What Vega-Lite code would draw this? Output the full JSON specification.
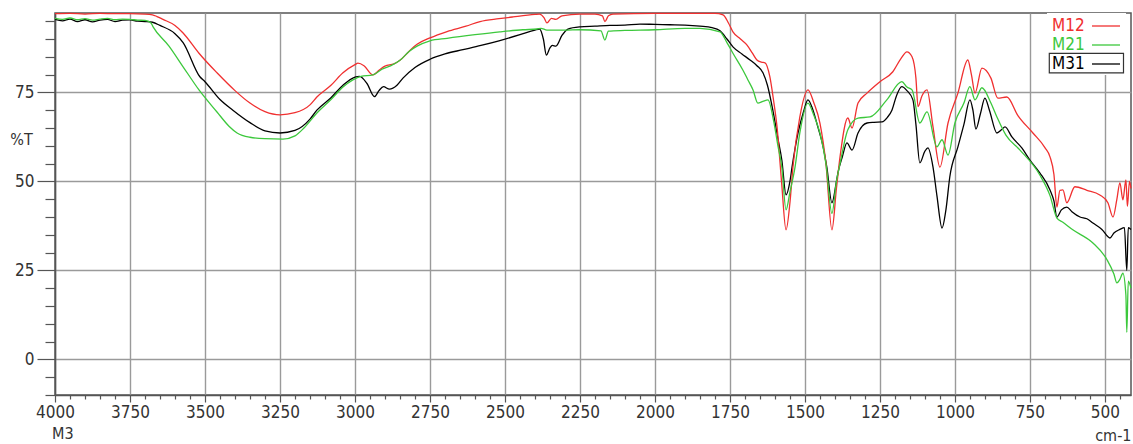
{
  "$schema": "https://vega.github.io/schema/vega-lite/v6.json",
  "width": 1076,
  "height": 382,
  "autosize": {"type": "none"},
  "padding": {"left": 55, "top": 13, "right": 2, "bottom": 49},
  "background": "white",
  "title": {"text": "M3", "orient": "bottom", "anchor": "start", "frame": "group", "offset": -17, "dx": -3, "fontSize": 16, "fontWeight": "normal", "color": "#333", "font": "Liberation Sans Narrow, DejaVu Sans Condensed, Liberation Sans"},
  "config": {
    "font": "Liberation Sans Narrow, DejaVu Sans Condensed, Liberation Sans",
    "view": {"stroke": "#555", "strokeWidth": 1.5},
    "axis": {"labelFont": "Liberation Sans Narrow, DejaVu Sans Condensed, Liberation Sans", "labelFontSize": 17, "labelColor": "#333", "titleFont": "Liberation Sans Narrow, DejaVu Sans Condensed, Liberation Sans", "titleFontWeight": "normal", "titleFontSize": 16, "titleColor": "#333", "domainColor": "#555", "domainWidth": 1.5, "tickColor": "#555", "tickWidth": 1.2, "gridColor": "#9a9a9a", "gridWidth": 1.4, "labelFlush": false, "labelOverlap": false}
  },
  "data": {"values": [
    {"s":"M31","wn":4000,"t":95.5},{"s":"M31","wn":3975,"t":95.1},{"s":"M31","wn":3950,"t":95.6},{"s":"M31","wn":3925,"t":94.9},{"s":"M31","wn":3900,"t":95.4},{"s":"M31","wn":3875,"t":94.8},{"s":"M31","wn":3850,"t":95.3},{"s":"M31","wn":3825,"t":95.5},{"s":"M31","wn":3800,"t":94.9},{"s":"M31","wn":3775,"t":95.3},{"s":"M31","wn":3750,"t":95.4},{"s":"M31","wn":3725,"t":95.0},{"s":"M31","wn":3700,"t":94.9},{"s":"M31","wn":3675,"t":94.7},{"s":"M31","wn":3650,"t":93.8},{"s":"M31","wn":3600,"t":91.5},{"s":"M31","wn":3573,"t":89.0},{"s":"M31","wn":3517,"t":79.4},{"s":"M31","wn":3500,"t":78.0},{"s":"M31","wn":3450,"t":73.0},{"s":"M31","wn":3407,"t":70.0},{"s":"M31","wn":3350,"t":66.5},{"s":"M31","wn":3300,"t":64.2},{"s":"M31","wn":3250,"t":63.6},{"s":"M31","wn":3200,"t":64.3},{"s":"M31","wn":3150,"t":67.5},{"s":"M31","wn":3127,"t":70.0},{"s":"M31","wn":3080,"t":73.5},{"s":"M31","wn":3040,"t":77.0},{"s":"M31","wn":3000,"t":79.3},{"s":"M31","wn":2985,"t":79.5},{"s":"M31","wn":2960,"t":77.5},{"s":"M31","wn":2935,"t":73.8},{"s":"M31","wn":2920,"t":75.5},{"s":"M31","wn":2905,"t":76.6},{"s":"M31","wn":2885,"t":75.9},{"s":"M31","wn":2860,"t":77.0},{"s":"M31","wn":2840,"t":79.0},{"s":"M31","wn":2800,"t":82.0},{"s":"M31","wn":2750,"t":84.3},{"s":"M31","wn":2700,"t":85.8},{"s":"M31","wn":2640,"t":87.0},{"s":"M31","wn":2580,"t":88.2},{"s":"M31","wn":2520,"t":89.5},{"s":"M31","wn":2450,"t":91.2},{"s":"M31","wn":2400,"t":92.5},{"s":"M31","wn":2385,"t":92.8},{"s":"M31","wn":2372,"t":90.0},{"s":"M31","wn":2362,"t":85.5},{"s":"M31","wn":2350,"t":87.5},{"s":"M31","wn":2342,"t":88.2},{"s":"M31","wn":2330,"t":88.0},{"s":"M31","wn":2310,"t":91.0},{"s":"M31","wn":2290,"t":92.8},{"s":"M31","wn":2250,"t":93.4},{"s":"M31","wn":2200,"t":93.6},{"s":"M31","wn":2150,"t":93.8},{"s":"M31","wn":2100,"t":93.9},{"s":"M31","wn":2050,"t":94.2},{"s":"M31","wn":2000,"t":94.1},{"s":"M31","wn":1950,"t":94.0},{"s":"M31","wn":1900,"t":93.9},{"s":"M31","wn":1850,"t":93.6},{"s":"M31","wn":1810,"t":93.2},{"s":"M31","wn":1783,"t":92.3},{"s":"M31","wn":1760,"t":90.0},{"s":"M31","wn":1740,"t":87.8},{"s":"M31","wn":1710,"t":85.8},{"s":"M31","wn":1683,"t":84.1},{"s":"M31","wn":1660,"t":82.5},{"s":"M31","wn":1640,"t":80.5},{"s":"M31","wn":1625,"t":77.0},{"s":"M31","wn":1607,"t":70.0},{"s":"M31","wn":1590,"t":62.0},{"s":"M31","wn":1577,"t":56.0},{"s":"M31","wn":1563,"t":46.2},{"s":"M31","wn":1550,"t":50.0},{"s":"M31","wn":1543,"t":54.0},{"s":"M31","wn":1523,"t":63.6},{"s":"M31","wn":1505,"t":69.5},{"s":"M31","wn":1490,"t":72.9},{"s":"M31","wn":1475,"t":70.5},{"s":"M31","wn":1457,"t":65.3},{"s":"M31","wn":1440,"t":60.0},{"s":"M31","wn":1427,"t":54.0},{"s":"M31","wn":1410,"t":44.0},{"s":"M31","wn":1395,"t":50.0},{"s":"M31","wn":1390,"t":52.4},{"s":"M31","wn":1375,"t":57.0},{"s":"M31","wn":1360,"t":60.8},{"s":"M31","wn":1343,"t":58.8},{"s":"M31","wn":1323,"t":63.6},{"s":"M31","wn":1293,"t":66.4},{"s":"M31","wn":1270,"t":66.6},{"s":"M31","wn":1243,"t":66.7},{"s":"M31","wn":1225,"t":68.0},{"s":"M31","wn":1210,"t":70.0},{"s":"M31","wn":1195,"t":74.0},{"s":"M31","wn":1177,"t":76.6},{"s":"M31","wn":1160,"t":75.5},{"s":"M31","wn":1140,"t":72.9},{"s":"M31","wn":1130,"t":66.0},{"s":"M31","wn":1117,"t":55.2},{"s":"M31","wn":1100,"t":58.5},{"s":"M31","wn":1090,"t":59.4},{"s":"M31","wn":1073,"t":54.0},{"s":"M31","wn":1060,"t":46.0},{"s":"M31","wn":1043,"t":36.9},{"s":"M31","wn":1030,"t":42.0},{"s":"M31","wn":1017,"t":51.3},{"s":"M31","wn":990,"t":59.7},{"s":"M31","wn":970,"t":66.0},{"s":"M31","wn":950,"t":72.9},{"s":"M31","wn":940,"t":70.0},{"s":"M31","wn":930,"t":64.7},{"s":"M31","wn":915,"t":69.0},{"s":"M31","wn":900,"t":73.4},{"s":"M31","wn":885,"t":70.0},{"s":"M31","wn":860,"t":63.6},{"s":"M31","wn":845,"t":64.5},{"s":"M31","wn":833,"t":65.3},{"s":"M31","wn":810,"t":62.5},{"s":"M31","wn":777,"t":59.4},{"s":"M31","wn":750,"t":56.0},{"s":"M31","wn":717,"t":52.4},{"s":"M31","wn":683,"t":47.6},{"s":"M31","wn":670,"t":44.5},{"s":"M31","wn":660,"t":40.0},{"s":"M31","wn":645,"t":42.0},{"s":"M31","wn":627,"t":42.8},{"s":"M31","wn":610,"t":41.5},{"s":"M31","wn":583,"t":40.0},{"s":"M31","wn":560,"t":39.5},{"s":"M31","wn":540,"t":38.3},{"s":"M31","wn":510,"t":36.5},{"s":"M31","wn":483,"t":34.1},{"s":"M31","wn":470,"t":35.5},{"s":"M31","wn":450,"t":36.5},{"s":"M31","wn":435,"t":37.0},{"s":"M31","wn":427,"t":25.0},{"s":"M31","wn":422,"t":37.0},{"s":"M31","wn":413,"t":36.5},

    {"s":"M12","wn":4000,"t":97.1},{"s":"M12","wn":3950,"t":97.2},{"s":"M12","wn":3900,"t":97.0},{"s":"M12","wn":3850,"t":97.2},{"s":"M12","wn":3800,"t":97.1},{"s":"M12","wn":3750,"t":97.1},{"s":"M12","wn":3700,"t":97.0},{"s":"M12","wn":3675,"t":96.8},{"s":"M12","wn":3660,"t":96.3},{"s":"M12","wn":3640,"t":95.5},{"s":"M12","wn":3600,"t":93.8},{"s":"M12","wn":3573,"t":91.7},{"s":"M12","wn":3520,"t":86.0},{"s":"M12","wn":3460,"t":80.5},{"s":"M12","wn":3400,"t":75.5},{"s":"M12","wn":3350,"t":72.0},{"s":"M12","wn":3300,"t":69.6},{"s":"M12","wn":3250,"t":68.7},{"s":"M12","wn":3200,"t":69.3},{"s":"M12","wn":3150,"t":71.5},{"s":"M12","wn":3127,"t":73.7},{"s":"M12","wn":3080,"t":77.0},{"s":"M12","wn":3040,"t":80.5},{"s":"M12","wn":3000,"t":82.8},{"s":"M12","wn":2990,"t":83.2},{"s":"M12","wn":2970,"t":82.5},{"s":"M12","wn":2940,"t":79.9},{"s":"M12","wn":2920,"t":81.2},{"s":"M12","wn":2900,"t":82.4},{"s":"M12","wn":2870,"t":83.0},{"s":"M12","wn":2850,"t":84.0},{"s":"M12","wn":2820,"t":86.5},{"s":"M12","wn":2793,"t":88.5},{"s":"M12","wn":2750,"t":90.3},{"s":"M12","wn":2693,"t":92.1},{"s":"M12","wn":2630,"t":93.6},{"s":"M12","wn":2583,"t":94.9},{"s":"M12","wn":2520,"t":95.7},{"s":"M12","wn":2473,"t":96.2},{"s":"M12","wn":2400,"t":96.9},{"s":"M12","wn":2385,"t":97.0},{"s":"M12","wn":2370,"t":96.0},{"s":"M12","wn":2360,"t":94.5},{"s":"M12","wn":2345,"t":95.8},{"s":"M12","wn":2330,"t":95.5},{"s":"M12","wn":2310,"t":96.5},{"s":"M12","wn":2250,"t":97.0},{"s":"M12","wn":2200,"t":97.0},{"s":"M12","wn":2175,"t":96.5},{"s":"M12","wn":2167,"t":94.9},{"s":"M12","wn":2155,"t":96.5},{"s":"M12","wn":2140,"t":97.0},{"s":"M12","wn":2000,"t":97.2},{"s":"M12","wn":1900,"t":97.2},{"s":"M12","wn":1800,"t":97.2},{"s":"M12","wn":1773,"t":96.8},{"s":"M12","wn":1755,"t":94.5},{"s":"M12","wn":1740,"t":92.0},{"s":"M12","wn":1715,"t":90.0},{"s":"M12","wn":1693,"t":88.3},{"s":"M12","wn":1675,"t":86.0},{"s":"M12","wn":1660,"t":84.1},{"s":"M12","wn":1645,"t":83.5},{"s":"M12","wn":1633,"t":83.3},{"s":"M12","wn":1617,"t":79.4},{"s":"M12","wn":1605,"t":73.0},{"s":"M12","wn":1593,"t":65.3},{"s":"M12","wn":1578,"t":50.0},{"s":"M12","wn":1563,"t":36.4},{"s":"M12","wn":1550,"t":44.0},{"s":"M12","wn":1540,"t":54.0},{"s":"M12","wn":1517,"t":68.1},{"s":"M12","wn":1490,"t":75.7},{"s":"M12","wn":1470,"t":72.0},{"s":"M12","wn":1450,"t":66.4},{"s":"M12","wn":1430,"t":55.0},{"s":"M12","wn":1410,"t":36.4},{"s":"M12","wn":1395,"t":48.0},{"s":"M12","wn":1383,"t":56.9},{"s":"M12","wn":1357,"t":67.8},{"s":"M12","wn":1343,"t":65.0},{"s":"M12","wn":1323,"t":72.0},{"s":"M12","wn":1293,"t":74.8},{"s":"M12","wn":1250,"t":78.0},{"s":"M12","wn":1207,"t":80.8},{"s":"M12","wn":1180,"t":84.5},{"s":"M12","wn":1160,"t":86.4},{"s":"M12","wn":1143,"t":85.0},{"s":"M12","wn":1130,"t":79.0},{"s":"M12","wn":1123,"t":71.0},{"s":"M12","wn":1110,"t":74.0},{"s":"M12","wn":1093,"t":75.7},{"s":"M12","wn":1073,"t":65.3},{"s":"M12","wn":1050,"t":54.0},{"s":"M12","wn":1023,"t":66.4},{"s":"M12","wn":990,"t":74.8},{"s":"M12","wn":957,"t":84.1},{"s":"M12","wn":945,"t":80.0},{"s":"M12","wn":933,"t":74.8},{"s":"M12","wn":910,"t":81.8},{"s":"M12","wn":880,"t":79.0},{"s":"M12","wn":857,"t":73.4},{"s":"M12","wn":827,"t":73.7},{"s":"M12","wn":790,"t":68.5},{"s":"M12","wn":740,"t":63.6},{"s":"M12","wn":700,"t":59.5},{"s":"M12","wn":683,"t":56.9},{"s":"M12","wn":670,"t":52.0},{"s":"M12","wn":660,"t":42.8},{"s":"M12","wn":650,"t":47.5},{"s":"M12","wn":640,"t":47.6},{"s":"M12","wn":627,"t":44.0},{"s":"M12","wn":600,"t":48.5},{"s":"M12","wn":560,"t":47.5},{"s":"M12","wn":517,"t":46.2},{"s":"M12","wn":490,"t":44.0},{"s":"M12","wn":473,"t":40.0},{"s":"M12","wn":460,"t":45.0},{"s":"M12","wn":450,"t":49.6},{"s":"M12","wn":440,"t":44.8},{"s":"M12","wn":430,"t":50.4},{"s":"M12","wn":425,"t":43.0},{"s":"M12","wn":418,"t":50.0},{"s":"M12","wn":413,"t":48.0},

    {"s":"M21","wn":4000,"t":95.8},{"s":"M21","wn":3975,"t":95.5},{"s":"M21","wn":3950,"t":95.9},{"s":"M21","wn":3925,"t":95.4},{"s":"M21","wn":3900,"t":95.7},{"s":"M21","wn":3875,"t":95.3},{"s":"M21","wn":3850,"t":95.6},{"s":"M21","wn":3825,"t":95.8},{"s":"M21","wn":3800,"t":95.4},{"s":"M21","wn":3775,"t":95.6},{"s":"M21","wn":3750,"t":95.5},{"s":"M21","wn":3725,"t":95.3},{"s":"M21","wn":3700,"t":95.2},{"s":"M21","wn":3680,"t":94.5},{"s":"M21","wn":3673,"t":93.4},{"s":"M21","wn":3620,"t":88.0},{"s":"M21","wn":3573,"t":82.2},{"s":"M21","wn":3520,"t":75.7},{"s":"M21","wn":3460,"t":69.5},{"s":"M21","wn":3420,"t":65.5},{"s":"M21","wn":3393,"t":63.6},{"s":"M21","wn":3350,"t":62.4},{"s":"M21","wn":3300,"t":62.0},{"s":"M21","wn":3240,"t":61.9},{"s":"M21","wn":3200,"t":62.8},{"s":"M21","wn":3170,"t":65.0},{"s":"M21","wn":3127,"t":69.2},{"s":"M21","wn":3080,"t":73.0},{"s":"M21","wn":3040,"t":76.5},{"s":"M21","wn":3007,"t":78.5},{"s":"M21","wn":2980,"t":79.5},{"s":"M21","wn":2940,"t":79.9},{"s":"M21","wn":2910,"t":81.5},{"s":"M21","wn":2880,"t":82.5},{"s":"M21","wn":2850,"t":84.0},{"s":"M21","wn":2820,"t":86.5},{"s":"M21","wn":2793,"t":88.0},{"s":"M21","wn":2750,"t":89.5},{"s":"M21","wn":2693,"t":90.2},{"s":"M21","wn":2600,"t":91.2},{"s":"M21","wn":2517,"t":92.0},{"s":"M21","wn":2440,"t":92.6},{"s":"M21","wn":2393,"t":92.8},{"s":"M21","wn":2380,"t":93.0},{"s":"M21","wn":2360,"t":92.5},{"s":"M21","wn":2300,"t":92.5},{"s":"M21","wn":2250,"t":92.6},{"s":"M21","wn":2180,"t":92.3},{"s":"M21","wn":2167,"t":89.7},{"s":"M21","wn":2155,"t":92.2},{"s":"M21","wn":2100,"t":92.4},{"s":"M21","wn":2000,"t":92.6},{"s":"M21","wn":1900,"t":93.0},{"s":"M21","wn":1850,"t":93.0},{"s":"M21","wn":1783,"t":92.0},{"s":"M21","wn":1760,"t":89.0},{"s":"M21","wn":1740,"t":86.0},{"s":"M21","wn":1707,"t":81.3},{"s":"M21","wn":1690,"t":78.5},{"s":"M21","wn":1673,"t":75.7},{"s":"M21","wn":1657,"t":72.0},{"s":"M21","wn":1640,"t":72.5},{"s":"M21","wn":1623,"t":72.9},{"s":"M21","wn":1605,"t":67.3},{"s":"M21","wn":1590,"t":60.0},{"s":"M21","wn":1577,"t":54.0},{"s":"M21","wn":1563,"t":42.0},{"s":"M21","wn":1550,"t":47.0},{"s":"M21","wn":1533,"t":54.0},{"s":"M21","wn":1517,"t":63.6},{"s":"M21","wn":1490,"t":72.0},{"s":"M21","wn":1470,"t":68.5},{"s":"M21","wn":1450,"t":63.6},{"s":"M21","wn":1430,"t":55.0},{"s":"M21","wn":1410,"t":41.0},{"s":"M21","wn":1395,"t":50.0},{"s":"M21","wn":1383,"t":55.0},{"s":"M21","wn":1357,"t":64.5},{"s":"M21","wn":1323,"t":67.8},{"s":"M21","wn":1283,"t":68.1},{"s":"M21","wn":1227,"t":72.9},{"s":"M21","wn":1177,"t":78.0},{"s":"M21","wn":1160,"t":76.5},{"s":"M21","wn":1143,"t":75.7},{"s":"M21","wn":1117,"t":66.4},{"s":"M21","wn":1093,"t":69.5},{"s":"M21","wn":1060,"t":59.7},{"s":"M21","wn":1043,"t":61.7},{"s":"M21","wn":1023,"t":57.4},{"s":"M21","wn":1000,"t":66.4},{"s":"M21","wn":970,"t":72.0},{"s":"M21","wn":950,"t":76.6},{"s":"M21","wn":933,"t":72.9},{"s":"M21","wn":910,"t":76.3},{"s":"M21","wn":880,"t":72.0},{"s":"M21","wn":860,"t":68.1},{"s":"M21","wn":830,"t":63.0},{"s":"M21","wn":783,"t":58.8},{"s":"M21","wn":717,"t":51.8},{"s":"M21","wn":683,"t":46.0},{"s":"M21","wn":660,"t":39.7},{"s":"M21","wn":640,"t":38.5},{"s":"M21","wn":607,"t":36.4},{"s":"M21","wn":540,"t":32.7},{"s":"M21","wn":493,"t":28.0},{"s":"M21","wn":470,"t":24.0},{"s":"M21","wn":460,"t":21.5},{"s":"M21","wn":450,"t":22.5},{"s":"M21","wn":440,"t":24.2},{"s":"M21","wn":430,"t":18.0},{"s":"M21","wn":427,"t":7.6},{"s":"M21","wn":422,"t":22.0},{"s":"M21","wn":413,"t":20.0}
  ]},
  "mark": {"type": "line", "strokeJoin": "round", "interpolate": "monotone"},
  "encoding": {
    "x": {
      "field": "wn", "type": "quantitative",
      "scale": {"domain": [4000, 413], "nice": false, "zero": false},
      "axis": {
        "values": [4000,3950,3900,3850,3800,3750,3700,3650,3600,3550,3500,3450,3400,3350,3300,3250,3200,3150,3100,3050,3000,2950,2900,2850,2800,2750,2700,2650,2600,2550,2500,2450,2400,2350,2300,2250,2200,2150,2100,2050,2000,1950,1900,1850,1800,1750,1700,1650,1600,1550,1500,1450,1400,1350,1300,1250,1200,1150,1100,1050,1000,950,900,850,800,750,700,650,600,550,500,450],
        "labelExpr": "datum.value % 250 === 0 ? format(datum.value, 'd') : ''",
        "tickSize": {"condition": {"test": "datum.value % 250 === 0", "value": 7}, "value": 4},
        "gridOpacity": {"condition": {"test": "datum.value % 250 === 0", "value": 1}, "value": 0},
        "labelPadding": 2,
        "title": "cm-1", "titleX": 1076, "titleY": 40, "titleAlign": "right", "titleBaseline": "middle", "titleAnchor": null
      }
    },
    "y": {
      "field": "t", "type": "quantitative",
      "scale": {"domain": [-10, 97.3], "nice": false, "zero": false},
      "axis": {
        "values": [-10,-5,0,5,10,15,20,25,30,35,40,45,50,55,60,65,70,75,80,85,90,95],
        "labelExpr": "datum.value % 25 === 0 ? format(datum.value, 'd') : ''",
        "tickSize": {"condition": {"test": "datum.value % 25 === 0", "value": 18}, "value": 10},
        "gridOpacity": {"condition": {"test": "datum.value % 25 === 0", "value": 1}, "value": 0},
        "labelPadding": 3,
        "title": "%T", "titleAngle": 0, "titleX": -34, "titleY": 126, "titleAlign": "center", "titleBaseline": "middle", "titleFontSize": 16
      }
    },
    "color": {
      "field": "s", "type": "nominal",
      "scale": {"domain": ["M12", "M21", "M31"], "range": ["#f03030", "#3cc83c", "#000000"]},
      "legend": {
        "title": null, "orient": "none", "legendX": 992, "legendY": 0, "padding": 2,
        "fillColor": "white", "symbolType": "M-1.4,0L1.4,0", "symbolSize": 400, "symbolStrokeWidth": 1.5,
        "labelFont": "Liberation Sans Narrow, DejaVu Sans Condensed, Liberation Sans", "labelFontSize": 17, "rowPadding": 0,
        "encode": {
          "labels": {"update": {"x": {"value": 3}, "fill": {"scale": "color", "field": "value"}}},
          "symbols": {"update": {"x": {"value": 57}}},
          "entries": {"update": {"stroke": {"value": "#333"}, "strokeWidth": {"value": 1.2}, "strokeOpacity": {"signal": "datum && datum.index === 2 ? 1 : 0"}, "width": {"value": 76}, "height": {"value": 20}}}
        }
      }
    },
    "strokeWidth": {
      "field": "s", "type": "nominal",
      "scale": {"domain": ["M12", "M21", "M31"], "range": [1.3, 1.3, 2.2]},
      "legend": null
    }
  }
}
